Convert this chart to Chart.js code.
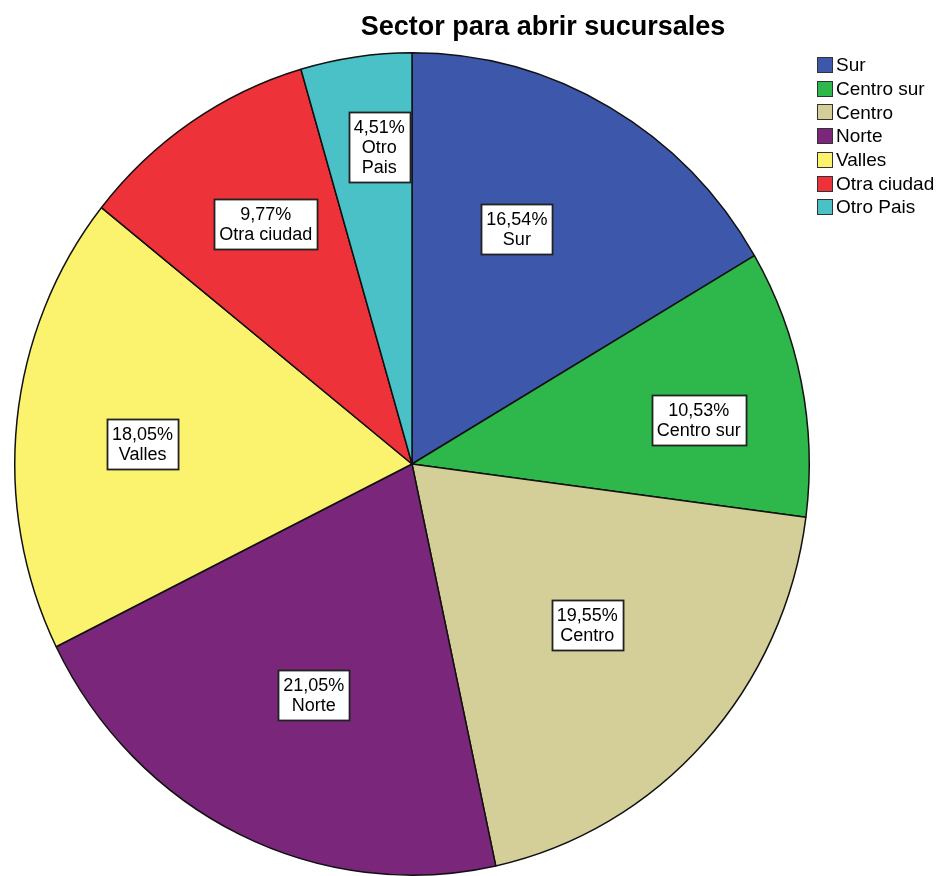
<!DOCTYPE html>
<html>
<head>
<meta charset="utf-8">
<title>Sector para abrir sucursales</title>
<script src="https://cdn.jsdelivr.net/npm/chart.js@4"></script>
<style>
  html, body { margin: 0; padding: 0; background: #fff; }
  #wrap { width: 936px; height: 876px; position: relative; }
</style>
</head>
<body>
<div id="wrap"><canvas id="pieChart"></canvas></div>
<script>
const categories = ['Sur', 'Centro sur', 'Centro', 'Norte', 'Valles', 'Otra ciudad', 'Otro Pais'];
const percents = [16.54, 10.53, 19.55, 21.05, 18.05, 9.77, 4.51];
const colors = ['#3d57ab', '#2eb74a', '#d4cf98', '#7a277b', '#fbf36e', '#ee3239', '#49c1c7'];

// pie is drawn a little taller than wide
const STRETCH_Y = 1.035;
// where each slice label sits: fraction of radius and angle nudge (deg)
const labelRadius = [0.63, 0.73, 0.59, 0.615, 0.68, 0.69, 0.776];
const labelNudge = [-5, 3, -1, -2, -2, 1.6, 2];

const FONT = '"Liberation Sans", Arial, sans-serif';

const fmtPct = v => v.toFixed(2).replace('.', ',') + '%';

const stretchPie = {
    id: 'stretchPie',
    beforeDatasetsDraw(chart) {
        const a = chart.getDatasetMeta(0).data[0];
        const ctx = chart.ctx;
        ctx.save();
        ctx.translate(a.x, a.y);
        ctx.scale(1, STRETCH_Y);
        ctx.translate(-a.x, -a.y);
    },
    afterDatasetsDraw(chart) {
        chart.ctx.restore();
    }
};

const sliceLabels = {
    id: 'sliceLabels',
    afterDraw(chart) {
        const ctx = chart.ctx;
        const meta = chart.getDatasetMeta(0);
        ctx.save();
        ctx.font = '18px ' + FONT;
        ctx.textAlign = 'center';
        ctx.textBaseline = 'middle';
        meta.data.forEach((arc, i) => {
            const { x, y, startAngle, endAngle, outerRadius } = arc.getProps(['x', 'y', 'startAngle', 'endAngle', 'outerRadius']);
            const mid = (startAngle + endAngle) / 2 + labelNudge[i] * Math.PI / 180;
            const r = outerRadius * labelRadius[i];
            const lx = x + Math.cos(mid) * r;
            const ly = y + Math.sin(mid) * r * STRETCH_Y;
            // narrow slices get their name broken over lines
            const name = percents[i] < 6 ? categories[i].split(' ') : [categories[i]];
            const lines = [fmtPct(percents[i]), ...name];
            const lh = 20;
            const w = Math.max(...lines.map(t => ctx.measureText(t).width)) + 10;
            const h = lines.length * lh + 10;
            const bx = Math.round(lx - w / 2) + 0.5;
            const by = Math.round(ly - h / 2) + 0.5;
            ctx.fillStyle = '#fff';
            ctx.fillRect(bx, by, w, h);
            ctx.strokeStyle = '#222';
            ctx.lineWidth = 1.8;
            ctx.strokeRect(bx, by, w, h);
            ctx.fillStyle = '#000';
            lines.forEach((t, k) => {
                ctx.fillText(t, lx, by + 5 + lh * k + lh / 2 + 1);
            });
        });
        ctx.restore();
    }
};

const titleAndLegend = {
    id: 'titleAndLegend',
    afterDraw(chart) {
        const ctx = chart.ctx;
        ctx.save();
        ctx.fillStyle = '#000';
        ctx.font = 'bold 27px ' + FONT;
        ctx.textAlign = 'center';
        ctx.textBaseline = 'middle';
        ctx.fillText('Sector para abrir sucursales', 543, 28);

        ctx.font = '19px ' + FONT;
        ctx.textAlign = 'left';
        categories.forEach((c, i) => {
            const cy = 65 + i * 23.7;
            ctx.fillStyle = colors[i];
            ctx.fillRect(817, Math.round(cy - 8), 16, 16);
            ctx.strokeStyle = '#333';
            ctx.lineWidth = 1;
            ctx.strokeRect(817.5, Math.round(cy - 8) + 0.5, 15, 15);
            ctx.fillStyle = '#000';
            ctx.fillText(c, 836, cy + 1);
        });
        ctx.restore();
    }
};

new Chart(document.getElementById('pieChart'), {
    type: 'pie',
    data: {
        labels: categories,
        datasets: [{
            data: percents,
            backgroundColor: colors,
            borderColor: '#111',
            borderWidth: 1.5
        }]
    },
    options: {
        responsive: true,
        maintainAspectRatio: false,
        animation: false,
        events: [],
        layout: { padding: { left: 14, right: 126, top: 66, bottom: 14 } },
        plugins: {
            legend: { display: false },
            title: { display: false },
            tooltip: { enabled: false }
        }
    },
    plugins: [stretchPie, sliceLabels, titleAndLegend]
});
</script>
</body>
</html>
